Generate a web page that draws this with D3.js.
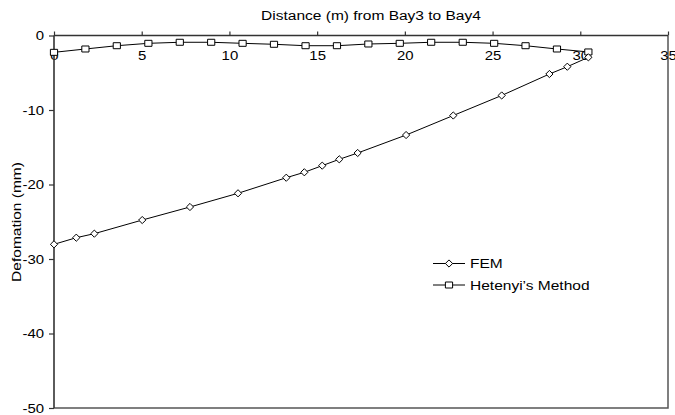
<!DOCTYPE html>
<html><head><meta charset="utf-8">
<script src="https://cdn.jsdelivr.net/npm/d3@7"></script>
<style>
html,body{margin:0;padding:0;background:#fff;}
svg{display:block;font-family:"Liberation Sans",Arial,sans-serif;}
</style></head>
<body><svg id="c" width="675" height="415"></svg>
<script>
// ---- data ----
const femX = [0, 1.27, 2.3, 5.03, 7.75, 10.49, 13.24, 14.27, 15.29, 16.26, 17.31, 20.07, 22.76, 25.52, 28.24, 29.26, 30.46];
const femY = [-28.03, -27.14, -26.6, -24.77, -23.02, -21.18, -19.09, -18.36, -17.47, -16.62, -15.77, -13.36, -10.74, -8.05, -5.17, -4.19, -2.93];
const hetX = [0, 1.79, 3.58, 5.38, 7.17, 8.96, 10.75, 12.54, 14.34, 16.13, 17.92, 19.71, 21.5, 23.3, 25.09, 26.88, 28.67, 30.46];
const hetY = [-2.26, -1.81, -1.37, -1.05, -0.91, -0.91, -1.05, -1.18, -1.37, -1.37, -1.14, -1.05, -0.91, -0.91, -1.05, -1.37, -1.81, -2.21];
const xTicks = [0, 5, 10, 15, 20, 25, 30, 35];
const yTicks = [0, -10, -20, -30, -40, -50];
const seriesNames = ["FEM", "Hetenyi\u2019s Method"];
const titleText = "Distance (m) from Bay3 to Bay4";
const yLabel = "Defomation (mm)";

const SX = 1.15;
const svg = d3.select("#c");
const L = 54, R = 668, T = 35.5, B = 408;
const x = d3.scaleLinear().domain([0, 35]).range([L, R]);
const y = d3.scaleLinear().domain([-50, 0]).range([B, T]);
const fmt = d => String(d);

function stretch(sel){
  sel.each(function(){
    const t = d3.select(this);
    const tx = +t.attr("x") || 0, ty = +t.attr("y") || 0;
    t.attr("x", null).attr("y", null)
     .attr("transform", `translate(${tx},${ty}) scale(${SX},1)`);
  });
}

// frame (right & bottom)
svg.append("path")
  .attr("d", `M${R},${T}V${B}H${L}`)
  .attr("fill", "none").attr("stroke", "#555").attr("stroke-width", 1.5);

// x axis (top, labels below)
const gx = svg.append("g").attr("transform", `translate(0,${T})`)
  .call(d3.axisBottom(x).tickValues(xTicks).tickSize(-4).tickPadding(15).tickFormat(fmt));
gx.select(".domain").attr("stroke", "#333").attr("stroke-width", 1.6).attr("d", `M${L},0H${R}`);
gx.selectAll(".tick line").attr("stroke", "#333").attr("stroke-width", 1.2);
gx.selectAll("text").attr("font-size", 13).attr("fill", "#000").attr("font-family", "Liberation Sans, Arial, sans-serif").call(stretch);

// y axis
const gy = svg.append("g").attr("transform", `translate(${L},0)`)
  .call(d3.axisLeft(y).tickValues(yTicks).tickSize(5).tickPadding(5).tickFormat(fmt));
gy.select(".domain").attr("stroke", "#333").attr("stroke-width", 1.6).attr("d", `M0,${T}V${B}`);
gy.selectAll(".tick line").attr("stroke", "#333").attr("stroke-width", 1.2);
gy.selectAll("text").attr("font-size", 13).attr("fill", "#000").attr("font-family", "Liberation Sans, Arial, sans-serif").call(stretch);

// title
svg.append("text").attr("text-anchor", "middle").attr("font-size", 13.5)
  .attr("transform", `translate(371,20) scale(${SX},1)`).text(titleText);

// y label
svg.append("text").attr("text-anchor", "middle").attr("font-size", 13.5)
  .attr("transform", `translate(21,222) rotate(-90) scale(${SX},1)`).text(yLabel);

// series
const line = d3.line().x(d => x(d[0])).y(d => y(d[1]));
const fem = femX.map((v, i) => [v, femY[i]]);
const het = hetX.map((v, i) => [v, hetY[i]]);

svg.append("path").datum(het).attr("d", line).attr("fill", "none").attr("stroke", "#000").attr("stroke-width", 1);
svg.append("path").datum(fem).attr("d", line).attr("fill", "none").attr("stroke", "#000").attr("stroke-width", 1);

const diamond = "M0,-3.6L3.6,0L0,3.6L-3.6,0Z";
const square = "M-3.6,-3L3.6,-3L3.6,3L-3.6,3Z";

svg.append("g").selectAll("path").data(het).join("path")
  .attr("d", square).attr("transform", d => `translate(${x(d[0])},${y(d[1])})`)
  .attr("fill", "#fff").attr("stroke", "#000").attr("stroke-width", 1);
svg.append("g").selectAll("path").data(fem).join("path")
  .attr("d", diamond).attr("transform", d => `translate(${x(d[0])},${y(d[1])})`)
  .attr("fill", "#fff").attr("stroke", "#000").attr("stroke-width", 1);

// legend
const leg = [{name: seriesNames[0], m: diamond, y: 263.5}, {name: seriesNames[1], m: square, y: 285}];
const lg = svg.append("g");
leg.forEach(d => {
  lg.append("line").attr("x1", 433).attr("x2", 465).attr("y1", d.y).attr("y2", d.y).attr("stroke", "#000");
  lg.append("path").attr("d", d.m).attr("transform", `translate(449,${d.y})`).attr("fill", "#fff").attr("stroke", "#000");
  lg.append("text").attr("font-size", 13.5).attr("transform", `translate(470,${d.y + 4.8}) scale(${SX},1)`).text(d.name);
});
</script></body></html>
